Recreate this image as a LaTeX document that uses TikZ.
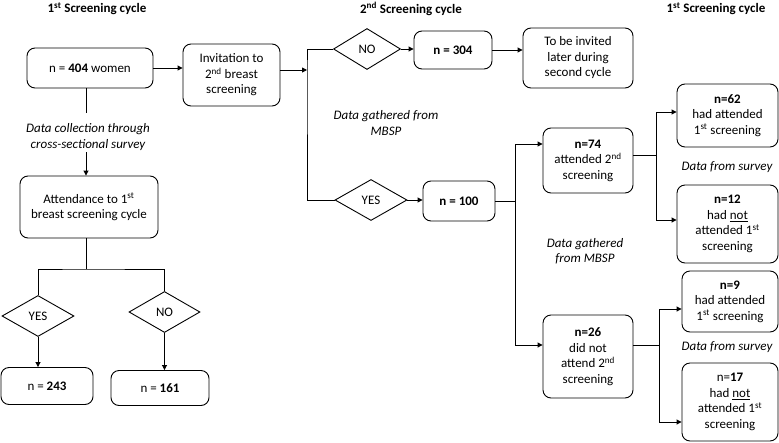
\documentclass[tikz,border=0pt]{standalone}
\usepackage{fontspec}
\setmainfont{Carlito}
\usetikzlibrary{shapes.geometric,arrows.meta}
\begin{document}
\begin{tikzpicture}[x=1pt,y=-1pt,
  txt/.style={font=\fontsize{13}{15.5}\selectfont},
  box/.style={txt,draw,rounded corners=8pt,line width=0.9pt,align=center,inner sep=0pt},
  dia/.style={txt,draw,diamond,line width=0.9pt,inner sep=0pt},
  lab/.style={align=center,font=\fontsize{13}{15.5}\selectfont\itshape},
  ttl/.style={font=\fontsize{13}{15.5}\selectfont\bfseries},
  arr/.style={-{Triangle[length=5pt,width=5pt]},line width=0.9pt},
  ln/.style={line width=0.9pt}]
\useasboundingbox (0,0) rectangle (779,442);
% titles
\node[ttl] (t1) at (97,9) {1\textsuperscript{st} Screening cycle};
\node[ttl] (t2) at (411,9) {2\textsuperscript{nd} Screening cycle};
\node[ttl] (t3) at (716,9) {1\textsuperscript{st} Screening cycle};
% left column
\node[box,minimum width=126pt,minimum height=40pt] (a) at (90,68) {n = \textbf{404} women};
\node[box,minimum width=97pt,minimum height=62pt] (inv) at (231.5,75) {Invitation to\\2\textsuperscript{nd} breast\\screening};
\node[lab] (dc) at (88,137) {Data collection through\\cross-sectional survey};
\node[box,minimum width=138pt,minimum height=62pt] (att) at (89,207) {Attendance to 1\textsuperscript{st}\\breast screening cycle};
\node[dia,minimum width=72pt,minimum height=41pt] (y1) at (38,316) {YES};
\node[dia,minimum width=71pt,minimum height=41pt] (n1) at (164.5,312) {NO};
\node[box,minimum width=92pt,minimum height=37pt] (b243) at (47,386) {n = \textbf{243}};
\node[box,minimum width=98pt,minimum height=35pt] (b161) at (160,388) {n = \textbf{161}};
% middle
\node[dia,minimum width=67pt,minimum height=41pt] (no) at (367,49) {NO};
\node[dia,minimum width=72pt,minimum height=41pt] (yes) at (371,200) {YES};
\node[box,minimum width=78pt,minimum height=38pt] (n304) at (453,50) {\textbf{n = 304}};
\node[box,minimum width=110pt,minimum height=60pt] (later) at (578,58) {To be invited\\later during\\second cycle};
\node[lab] (dg1) at (386,123) {Data gathered from\\MBSP};
\node[box,minimum width=72pt,minimum height=40pt] (n100) at (459,201) {\textbf{n = 100}};
\node[box,minimum width=90pt,minimum height=65pt] (n74) at (588,160.5) {\textbf{n=74}\\attended 2\textsuperscript{nd}\\screening};
\node[lab] (dg2) at (585,251) {Data gathered\\from MBSP};
\node[box,minimum width=90pt,minimum height=83pt] (n26) at (588,356.5) {\textbf{n=26}\\did not\\attend 2\textsuperscript{nd}\\screening};
% right
\node[box,minimum width=101pt,minimum height=63pt] (n62) at (727.5,115.5) {\textbf{n=62}\\had attended\\1\textsuperscript{st} screening};
\node[lab] (ds1) at (727,167) {Data from survey};
\node[box,minimum width=101pt,minimum height=78pt] (n12) at (727.5,224) {\textbf{n=12}\\had \underline{not}\\attended 1\textsuperscript{st}\\screening};
\node[box,minimum width=96pt,minimum height=61pt] (n9) at (730,301.5) {\textbf{n=9}\\had attended\\1\textsuperscript{st} screening};
\node[lab] (ds2) at (727,347) {Data from survey};
\node[box,minimum width=96pt,minimum height=78pt] (n17) at (730,402) {n=\textbf{17}\\had \underline{not}\\attended 1\textsuperscript{st}\\screening};
% connectors left
\draw[arr] (a.east) -- (a.east -| inv.west);
\coordinate (v1) at (86,113);
\coordinate (v2) at (86,152);
\draw[ln] (a.south -| v1) -- (v1);
\draw[arr] (v2) -- (v2 |- att.north);
\coordinate (sp) at (86,269);
\draw[ln] (att.south -| sp) -- (sp);
\draw[ln] (y1.north) |- (sp) -| (n1.north);
\draw[arr] (y1.south) -- (y1.south |- b243.north);
\draw[arr] (n1.south) -- (n1.south |- b161.north);
% connectors middle
\coordinate (s) at (307,70);
\draw[arr] (inv.east |- s) -- (s);
\draw[ln] (no.west) -| (s) |- (yes.west);
\draw[arr] (no.east) -- (no.east -| n304.west);
\draw[arr] (n304.east) -- (n304.east -| later.west);
\draw[arr] (yes.east) -- (yes.east -| n100.west);
\coordinate (j74) at (515,144);
\coordinate (j26) at (515,345);
\draw[ln] (n100.east) -- (n100.east -| j74);
\draw[ln] (j74) -- (j26);
\draw[arr] (j74) -- (j74 -| n74.west);
\draw[arr] (j26) -- (j26 -| n26.west);
% connectors right
\coordinate (k74) at (656,155);
\coordinate (k62) at (656,112);
\coordinate (k12) at (656,220);
\draw[ln] (k74 -| n74.east) -- (k74);
\draw[ln] (k62) -- (k12);
\draw[arr] (k62) -- (k62 -| n62.west);
\draw[arr] (k12) -- (k12 -| n12.west);
\coordinate (k26) at (659,345);
\coordinate (k9) at (659,309);
\coordinate (k17) at (659,422);
\draw[ln] (k26 -| n26.east) -- (k26);
\draw[ln] (k9) -- (k17);
\draw[arr] (k9) -- (k9 -| n9.west);
\draw[arr] (k17) -- (k17 -| n17.west);
\end{tikzpicture}
\end{document}
